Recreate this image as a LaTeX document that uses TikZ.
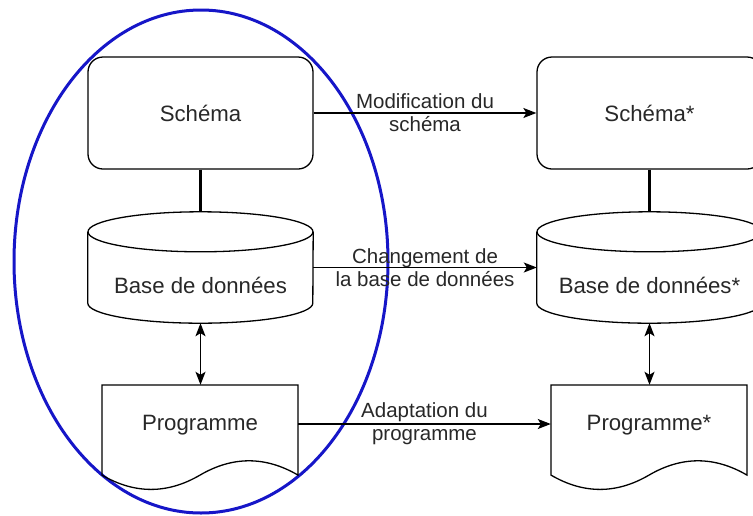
\documentclass[tikz,border=0pt]{standalone}
\usepackage{fontspec}
\setmainfont{Liberation Sans}
\usetikzlibrary{arrows.meta}
\definecolor{ovalblue}{RGB}{22,22,200}
\definecolor{txt}{RGB}{40,40,40}
\begin{document}
\begin{tikzpicture}[x=1pt,y=1pt,
  shapeline/.style={draw=black, line width=1.3pt},
  nodefont/.style={font=\fontsize{22.2}{26}\selectfont, text=txt},
  rbox/.style={shapeline, nodefont, rounded corners=15pt, minimum width=225pt, minimum height=112pt, inner sep=0pt, text height=17pt, text depth=0pt},
  dbbox/.style={nodefont, minimum width=225pt, minimum height=111pt, inner sep=0pt, text height=60pt, text depth=9pt},
  docbox/.style={nodefont, minimum width=196pt, minimum height=106pt, inner sep=0pt, text height=16pt, text depth=32pt},
  link/.style={line width=2.2pt},
  flow/.style={line width=1.4pt, -{Stealth[length=13pt,width=10pt,inset=3pt]}},
  both/.style={line width=1.4pt, {Stealth[length=13pt,width=10pt,inset=3pt]}-{Stealth[length=13pt,width=10pt,inset=3pt]}},
  lbl/.style={font=\fontsize{20.5}{23}\selectfont, text=txt, align=center, inner sep=0pt},
  oval/.style={draw=ovalblue, line width=3pt}
]
\useasboundingbox (0,0) rectangle (753,-515);
\fill[white] (0,0) rectangle (753,-515);

% blue grouping ellipse
\draw[oval] (201,-261.5) ellipse [x radius=187pt, y radius=251.5pt];

% left column
\node[rbox] (s1) at (200.5,-113) {Schéma};
\node[dbbox] (d1) at (200.5,-267.5) {Base de données};
\node[docbox] (p1) at (200,-438) {Programme};

% right column
\node[rbox] (s2) at (649.5,-113) {Schéma*};
\node[dbbox] (d2) at (649.5,-267.5) {Base de données*};
\node[docbox] (p2) at (649,-438) {Programme*};

% cylinders
\foreach \n in {d1,d2}{
  \draw[shapeline] ([yshift=-20pt]\n.north west) -- ([yshift=20pt]\n.south west)
     arc[start angle=180, end angle=360, x radius=112.5pt, y radius=20pt]
     -- ([yshift=-20pt]\n.north east);
  \draw[shapeline] ([yshift=-20pt]\n.north) ellipse [x radius=112.5pt, y radius=20pt];
}

% documents
\draw[shapeline] (102,-385) -- (298,-385) -- (298,-475.1)
   .. controls (265.33,-456.03) and (232.67,-456.03) .. (200,-475.1)
   .. controls (167.33,-494.17) and (134.67,-494.17) .. (102,-475.1) -- cycle;
\draw[shapeline] (551,-385) -- (747,-385) -- (747,-475.1)
   .. controls (714.33,-456.03) and (681.67,-456.03) .. (649,-475.1)
   .. controls (616.33,-494.17) and (583.67,-494.17) .. (551,-475.1) -- cycle;

% vertical connectors
\draw[link] (s1.south) -- (d1.north);
\draw[link] (s2.south) -- (d2.north);
\draw[both] (d1.south) -- (d1.south |- p1.north);
\draw[both] (d2.south) -- (d2.south |- p2.north);

% horizontal arrows
\draw[flow] (s1.east) -- node[lbl] {Modification du\\schéma} (s2.west);
\draw[flow] (d1.east) -- node[lbl] {Changement de\\la base de données} (d2.west);
\draw[flow] ([yshift=14pt]p1.east) -- node[lbl] {Adaptation du\\programme} ([yshift=14pt]p2.west);
\end{tikzpicture}
\end{document}
